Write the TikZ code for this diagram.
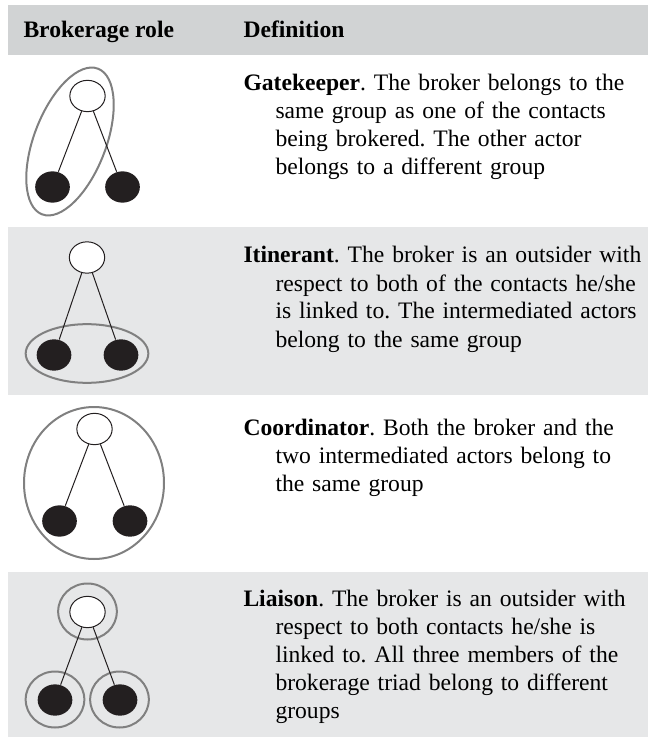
\documentclass[tikz,border=0pt]{standalone}
\usepackage{fontspec}
\setmainfont{Liberation Serif}
\usetikzlibrary{shapes.geometric}
\frenchspacing

\tikzset{every picture/.style={line width=0.75pt}}
\tikzset{
  broker/.style={ellipse, draw={rgb, 255:red, 35; green, 31; blue, 32 }, fill=white, inner sep=0pt, minimum width=26.5pt, minimum height=23.5pt},
  contact/.style={ellipse, fill={rgb, 255:red, 35; green, 31; blue, 32 }, inner sep=0pt, minimum width=26pt, minimum height=23.5pt},
  tie/.style={draw={rgb, 255:red, 35; green, 31; blue, 32 }, line width=0.75pt},
  group/.style={ellipse, draw={rgb, 255:red, 128; green, 128; blue, 128 }, line width=1.5pt, inner sep=0pt},
  headtext/.style={anchor=base west, inner sep=0pt, font=\fontsize{17.7}{21}\selectfont\bfseries},
  deftext/.style={anchor=base west, inner sep=0pt, text width=330pt, font=\fontsize{17.7}{21}\selectfont}
}
\newcommand{\hang}{\hspace*{24pt}}

\begin{document}
\begin{tikzpicture}[x=0.75pt,y=0.75pt,yscale=-1,xscale=1]
\useasboundingbox (0,0) rectangle (648,737);

%Shape: Rectangle (header band)
\fill [color={rgb, 255:red, 209; green, 211; blue, 212 }] (7.5,5) rectangle (648,55);
%Shape: Rectangle (row bands)
\fill [color={rgb, 255:red, 230; green, 231; blue, 232 }] (7.5,227) rectangle (648,395);
\fill [color={rgb, 255:red, 230; green, 231; blue, 232 }] (7.5,572) rectangle (648,737);

% Text Node
\draw (23,38) node (hdrrole) [headtext] {Brokerage role};
% Text Node
\draw (243,38) node (hdrdef) [headtext] {Definition};

%Gatekeeper
\node (grpgate) [group, minimum width=117pt, minimum height=54pt, rotate=69] at (70,141.5) {};
\node (brkgate) [broker] at (87.5,96) {};
\node (lftgate) [contact] at (52.5,187) {};
\node (rgtgate) [contact] at (122.5,187) {};
\draw [tie] (brkgate) -- (lftgate);
\draw [tie] (brkgate) -- (rgtgate);
% Text Node
\draw (243,91) node (defgate) [deftext] {\textbf{Gatekeeper}. The broker belongs to the\\\hang same group as one of the contacts\\\hang being brokered. The other actor\\\hang belongs to a different group};

%Itinerant
\node (grpitin) [group, minimum width=92pt, minimum height=44pt] at (87,353.5) {};
\node (brkitin) [broker] at (87,257.5) {};
\node (lftitin) [contact] at (54,355) {};
\node (rgtitin) [contact] at (121,355) {};
\draw [tie] (brkitin) -- (lftitin);
\draw [tie] (brkitin) -- (rgtitin);
% Text Node
\draw (243,263) node (defitin) [deftext] {\textbf{Itinerant}. The broker is an outsider with\\\hang respect to both of the contacts he/she\\\hang is linked to. The intermediated actors\\\hang belong to the same group};

%Coordinator
\node (grpcoord) [group, minimum width=105pt, minimum height=114pt] at (94,483) {};
\node (brkcoord) [broker] at (94.5,429) {};
\node (lftcoord) [contact] at (59.5,521) {};
\node (rgtcoord) [contact] at (130,521) {};
\draw [tie] (brkcoord) -- (lftcoord);
\draw [tie] (brkcoord) -- (rgtcoord);
% Text Node
\draw (243,435) node (defcoord) [deftext] {\textbf{Coordinator}. Both the broker and the\\\hang two intermediated actors belong to\\\hang the same group};

%Liaison
\node (grptop) [group, minimum width=44pt, minimum height=42pt] at (87.5,611.5) {};
\node (grpleft) [group, minimum width=44pt, minimum height=42pt] at (55,699.5) {};
\node (grpright) [group, minimum width=44pt, minimum height=42pt] at (119.5,699.5) {};
\node (brkliai) [broker] at (87.5,612) {};
\node (lftliai) [contact] at (55,700) {};
\node (rgtliai) [contact] at (120,700) {};
\draw [tie] (brkliai) -- (lftliai);
\draw [tie] (brkliai) -- (rgtliai);
% Text Node
\draw (243,606) node (defliai) [deftext] {\textbf{Liaison}. The broker is an outsider with\\\hang respect to both contacts he/she is\\\hang linked to. All three members of the\\\hang brokerage triad belong to different\\\hang groups};

\end{tikzpicture}
\end{document}
